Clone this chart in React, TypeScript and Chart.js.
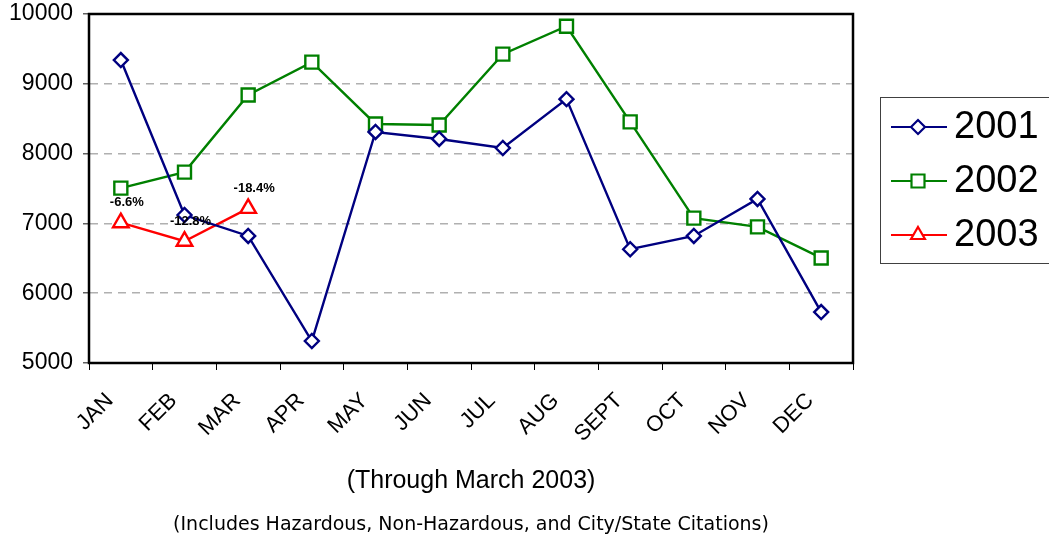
import React, { useEffect, useRef } from "react";
import { Chart, registerables } from "chart.js";

Chart.register(...registerables);

const months = ["JAN", "FEB", "MAR", "APR", "MAY", "JUN", "JUL", "AUG", "SEPT", "OCT", "NOV", "DEC"];
const values2001 = [9340, 7120, 6820, 5315, 8310, 8210, 8080, 8780, 6630, 6820, 7350, 5730];
const values2002 = [7505, 7735, 8840, 9310, 8425, 8410, 9425, 9825, 8455, 7075, 6950, 6505];
const values2003 = [7010, 6745, 7215, null, null, null, null, null, null, null, null, null];
const changeLabels2003 = ["-6.6%", "-12.8%", "-18.4%"];
const seriesNames = ["2001", "2002", "2003"];
const seriesColors = ["#000080", "#008000", "#FF0000"];
const seriesMarkers = ["rectRot", "rect", "triangle"];
const yMin = 5000;
const yMax = 10000;
const yStep = 1000;
const axisTitle = "(Through March 2003)";
const footnote = "(Includes Hazardous, Non-Hazardous, and City/State Citations)";

const SANS = "'Liberation Sans', Arial, sans-serif";

function drawMarker(ctx: CanvasRenderingContext2D, style: string, x: number, y: number, color: string) {
  ctx.save();
  ctx.lineWidth = 2.2;
  ctx.strokeStyle = color;
  ctx.fillStyle = "#ffffff";
  ctx.beginPath();
  if (style === "rectRot") {
    const r = 7;
    ctx.moveTo(x - r, y);
    ctx.lineTo(x, y - r);
    ctx.lineTo(x + r, y);
    ctx.lineTo(x, y + r);
    ctx.closePath();
  } else if (style === "rect") {
    const s = 6.5;
    ctx.rect(x - s, y - s, 2 * s, 2 * s);
  } else {
    const r = 8;
    ctx.moveTo(x, y - r);
    ctx.lineTo(x + r * 0.866, y + r * 0.5);
    ctx.lineTo(x - r * 0.866, y + r * 0.5);
    ctx.closePath();
  }
  ctx.fill();
  ctx.stroke();
  ctx.restore();
}

const decorPlugin = {
  id: "decor",
  afterDatasetsDraw(chart: any) {
    const ctx: CanvasRenderingContext2D = chart.ctx;
    const area = chart.chartArea;
    ctx.save();
    ctx.strokeStyle = "#000000";
    ctx.lineWidth = 2.5;
    ctx.strokeRect(area.left, area.top, area.right - area.left, area.bottom - area.top);
    ctx.restore();

    const meta = chart.getDatasetMeta(2);
    ctx.save();
    ctx.font = "bold 13px " + SANS;
    ctx.fillStyle = "#000000";
    ctx.textAlign = "center";
    ctx.textBaseline = "middle";
    changeLabels2003.forEach((lab, i) => {
      const pt = meta.data[i];
      if (pt) ctx.fillText(lab, pt.x + 6, pt.y - 20);
    });
    ctx.restore();
  },
  afterDraw(chart: any) {
    const ctx: CanvasRenderingContext2D = chart.ctx;
    const area = chart.chartArea;
    const cx = (area.left + area.right) / 2;
    ctx.save();
    ctx.fillStyle = "#000000";
    ctx.textAlign = "center";
    ctx.textBaseline = "middle";
    ctx.font = "25px " + SANS;
    ctx.fillText(axisTitle, cx, area.bottom + 118);
    ctx.font = "19px 'DejaVu Sans', sans-serif";
    ctx.fillText(footnote, cx, area.bottom + 162);
    ctx.restore();

    const lx = area.right + 27;
    const ly = 97;
    ctx.save();
    ctx.strokeStyle = "#404040";
    ctx.lineWidth = 1;
    ctx.strokeRect(lx + 0.5, ly + 0.5, 200, 166);
    const rows = [127, 181, 235];
    seriesNames.forEach((name, i) => {
      const y = rows[i];
      ctx.strokeStyle = seriesColors[i];
      ctx.lineWidth = 2.2;
      ctx.beginPath();
      ctx.moveTo(lx + 11, y);
      ctx.lineTo(lx + 67, y);
      ctx.stroke();
      drawMarker(ctx, seriesMarkers[i], lx + 38, y, seriesColors[i]);
      ctx.fillStyle = "#000000";
      ctx.font = "38px " + SANS;
      ctx.textAlign = "left";
      ctx.textBaseline = "middle";
      ctx.fillText(name, lx + 74, y + 1);
    });
    ctx.restore();
  },
};

export default function App() {
  const ref = useRef<HTMLCanvasElement | null>(null);
  useEffect(() => {
    if (!ref.current) return;
    const values = [values2001, values2002, values2003];
    const radii = [7, 9.2, 9];
    const chart = new Chart(ref.current, {
      type: "line",
      data: {
        labels: months,
        datasets: seriesNames.map((name, i) => ({
          label: name,
          data: values[i],
          borderColor: seriesColors[i],
          backgroundColor: "#ffffff",
          borderWidth: 2.4,
          pointStyle: seriesMarkers[i] as any,
          pointRadius: radii[i],
          pointBorderWidth: 2.4,
          pointBorderColor: seriesColors[i],
          pointBackgroundColor: "#ffffff",
          tension: 0,
          spanGaps: false,
        })),
      },
      options: {
        animation: false,
        responsive: false,
        maintainAspectRatio: false,
        layout: { padding: { left: 0, top: 14, right: 196, bottom: 0 } },
        plugins: {
          legend: { display: false },
          tooltip: { enabled: false },
          title: { display: false },
        },
        scales: {
          x: {
            offset: true,
            grid: {
              offset: true,
              drawOnChartArea: false,
              drawTicks: true,
              tickLength: 7,
              tickColor: "#000000",
            },
            border: { display: true, color: "#000000", width: 2 },
            ticks: {
              minRotation: 45,
              maxRotation: 45,
              autoSkip: false,
              color: "#000000",
              padding: 18,
              labelOffset: -11,
              font: { family: SANS, size: 22 },
            },
            afterFit: (s: any) => {
              s.height = 179;
              s.paddingLeft = 0;
              s.paddingRight = 0;
            },
          },
          y: {
            min: yMin,
            max: yMax,
            ticks: {
              stepSize: yStep,
              color: "#000000",
              padding: 10,
              font: { family: SANS, size: 23 },
              callback: (v: any) => String(v),
            },
            grid: {
              color: "#b0b0b0",
              lineWidth: 1.5,
              tickLength: 6,
              tickColor: "#606060",
              tickBorderDash: [],
            },
            border: { display: true, color: "#000000", width: 2, dash: [8, 6] },
            afterFit: (s: any) => {
              s.width = 89;
              s.paddingTop = 0;
              s.paddingBottom = 0;
            },
          },
        },
      },
      plugins: [decorPlugin],
    });
    return () => chart.destroy();
  }, []);

  return (
    <div style={{ position: "absolute", left: 0, top: 0, width: 1049, height: 542, background: "#ffffff" }}>
      <canvas ref={ref} width={1049} height={542} style={{ display: "block" }} />
    </div>
  );
}
